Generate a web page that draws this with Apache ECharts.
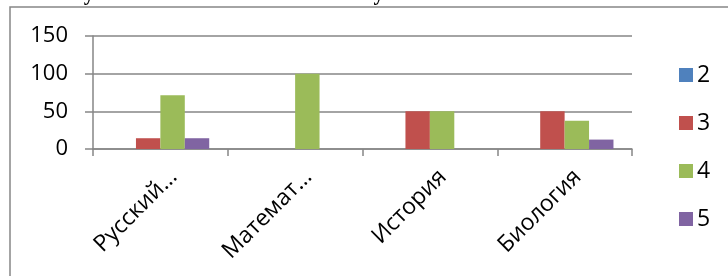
<!DOCTYPE html>
<html>
<head>
<meta charset="utf-8">
<script src="https://cdn.jsdelivr.net/npm/echarts@6/dist/echarts.min.js"></script>
<style>
  html, body { margin: 0; padding: 0; background: #fff; }
  #chart { width: 728px; height: 276px; }
</style>
</head>
<body>
<div id="chart"></div>
<script>
const categories = ['Русский…', 'Математ…', 'История', 'Биология'];
const seriesNames = ['2', '3', '4', '5'];
const grade2 = [0, 0, 0, 0];
const grade3 = [14.3, 0, 50, 50];
const grade4 = [71.4, 100, 50, 37.5];
const grade5 = [14.3, 0, 0, 12.5];
const yTicks = [0, 50, 100, 150];
const titleText = 'Результаты экзамена: качество и успеваемость';

const colors = ['#4F81BD', '#C0504D', '#9BBB59', '#8064A2'];
const font = '"Open Sans", "Liberation Sans", sans-serif';
const gray = '#868686';

const chart = echarts.init(document.getElementById('chart'));

const makeSeries = (name, data) => ({
    name: name,
    type: 'bar',
    data: data,
    barGap: '0%',
    barCategoryGap: '27.5%'
});

chart.setOption({
    animation: false,
    color: colors,
    graphic: [{
        type: 'rect',
        shape: {x: 10, y: 7, width: 760, height: 320},
        style: {fill: 'none', stroke: gray, lineWidth: 1.5},
        silent: true
    }, {
        // title sits above the crop, only descenders show
        type: 'text',
        x: 54,
        y: 5,
        style: {
            text: titleText,
            font: 'bold 21px "Liberation Serif", serif',
            fill: '#000',
            verticalAlign: 'bottom'
        }
    }],
    legend: {
        orient: 'vertical',
        left: 674,
        top: 58,
        itemWidth: 14,
        itemHeight: 14,
        itemGap: 24,
        icon: 'rect',
        data: seriesNames,
        textStyle: {fontFamily: font, fontSize: 23, color: '#000', lineHeight: 24, padding: [0, 0, 0, -1]}
    },
    grid: {left: 93, right: 96, top: 36, bottom: 127},
    xAxis: {
        type: 'category',
        data: categories,
        axisLine: {lineStyle: {color: gray, width: 1.5}},
        axisTick: {show: true, length: 7, alignWithLabel: false, lineStyle: {color: gray, width: 1.5}},
        axisLabel: {
            rotate: 45,
            interval: 0,
            margin: 14,
            verticalAlign: 'top',
            padding: [5, -2, 0, 0],
            fontFamily: font,
            fontSize: 23,
            color: '#000'
        }
    },
    yAxis: {
        type: 'value',
        min: yTicks[0],
        max: yTicks[yTicks.length - 1],
        interval: 50,
        axisLine: {show: true, lineStyle: {color: gray, width: 1.5}},
        axisTick: {show: true, length: 8, lineStyle: {color: gray, width: 1.5}},
        splitLine: {lineStyle: {color: gray, width: 1.5}},
        axisLabel: {
            margin: 25,
            fontFamily: font,
            fontSize: 22,
            color: '#000'
        }
    },
    series: [
        makeSeries(seriesNames[0], grade2),
        makeSeries(seriesNames[1], grade3),
        makeSeries(seriesNames[2], grade4),
        makeSeries(seriesNames[3], grade5)
    ]
});
</script>
</body>
</html>
